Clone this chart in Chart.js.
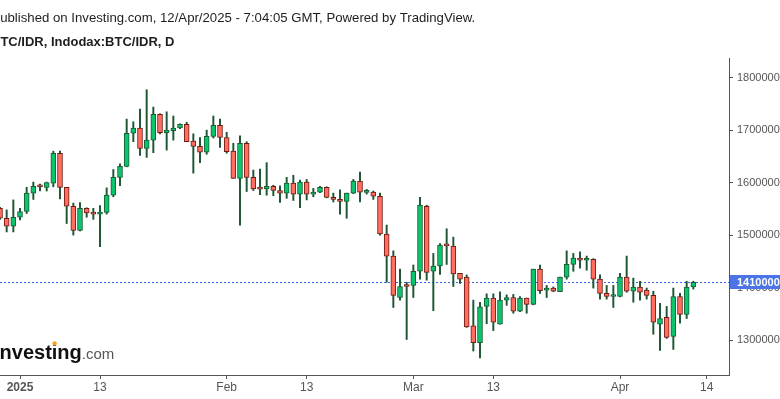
<!DOCTYPE html>
<html>
<head>
<meta charset="utf-8">
<script src="https://cdn.jsdelivr.net/npm/chart.js@4.4.1/dist/chart.umd.min.js"></script>
<style>
html, body { margin: 0; padding: 0; background: #fff; }
#caja { width: 780px; height: 399px; position: relative; }
</style>
</head>
<body>
<div id="caja"><canvas id="grafico"></canvas></div>
<script>
// velas diarias BTC/IDR, valores en millones de IDR
var primerDia = '2024-12-29';
var aperturas = [15.51,15.32,15.17,15.34,15.45,15.80,15.93,15.91,15.99,16.56,15.91,15.55,15.09,15.51,15.41,
  15.40,15.43,15.76,16.10,16.31,16.94,17.04,16.65,16.81,17.30,16.95,16.99,17.04,17.11,16.79,
  16.69,16.58,16.88,17.09,16.86,16.60,16.08,16.75,16.10,15.88,15.88,15.93,15.85,15.80,15.99,
  15.78,16.01,15.78,15.82,15.91,15.72,15.68,15.64,15.80,16.03,15.815,15.82,15.74,15.02,14.60,
  13.81,14.03,14.04,14.31,15.55,14.31,14.41,14.80,14.79,14.27,14.20,13.27,12.95,13.64,13.80,
  13.30,13.76,13.81,13.55,13.80,13.68,14.35,13.95,13.99,13.92,14.20,14.44,14.56,14.52,14.54,
  14.16,13.89,13.83,13.83,14.20,13.93,14.01,13.95,13.85,13.30,13.43,13.07,13.83,13.49,14.01];
var maximos = [15.53,15.48,15.67,15.51,15.91,16.01,15.97,16.01,16.60,16.60,15.91,15.61,15.62,15.52,15.51,
  15.56,15.90,16.25,16.36,17.21,17.16,17.40,17.77,17.44,17.31,17.35,17.27,17.12,17.15,16.93,
  16.86,17.00,17.27,17.21,16.96,16.75,16.89,16.78,16.24,16.26,16.38,15.95,15.94,16.10,16.14,
  16.05,16.06,15.89,15.93,15.92,15.80,15.86,15.80,16.06,16.20,15.87,15.84,15.80,15.19,14.70,
  14.35,14.10,14.43,15.72,15.57,14.65,14.84,15.12,14.96,14.27,14.24,13.76,13.72,13.88,13.88,
  13.92,13.86,13.87,13.83,13.80,14.35,14.43,14.04,14.01,14.20,14.70,14.65,14.68,14.60,14.55,
  14.24,14.04,14.04,14.27,14.60,14.18,14.12,13.99,13.93,13.70,13.64,13.99,13.89,14.12,14.12];
var minimos = [15.30,15.06,15.06,15.29,15.41,15.68,15.84,15.84,15.92,15.69,15.22,15.00,15.08,15.34,15.30,
  14.78,15.40,15.73,15.94,16.30,16.78,16.52,16.48,16.57,16.93,16.62,16.81,17.03,16.78,16.18,
  16.38,16.54,16.85,16.67,16.56,16.08,15.19,15.83,15.85,15.77,15.76,15.75,15.62,15.70,15.66,
  15.52,15.67,15.73,15.81,15.71,15.63,15.40,15.32,15.79,15.63,15.78,15.68,15.00,14.10,13.62,
  13.76,13.01,13.81,14.16,14.14,13.56,14.25,14.44,14.02,14.08,13.24,12.79,12.66,13.31,13.18,
  13.30,13.66,13.51,13.54,13.51,13.67,13.89,13.81,13.92,13.92,14.16,14.31,14.37,14.33,13.99,
  13.78,13.78,13.62,13.82,13.91,13.72,13.76,13.78,13.11,12.80,13.03,12.82,13.32,13.41,13.97];
var cierres = [15.32,15.17,15.34,15.45,15.80,15.93,15.92,16.00,16.56,15.91,15.55,15.09,15.51,15.42,15.40,
  15.44,15.76,16.10,16.31,16.94,17.04,16.65,16.81,17.30,16.95,17.00,17.04,17.11,16.78,16.69,
  16.58,16.88,17.09,16.86,16.59,16.08,16.75,16.10,15.88,15.875,15.93,15.85,15.80,15.99,15.78,
  16.01,15.78,15.82,15.91,15.72,15.68,15.64,15.80,16.03,15.82,15.82,15.74,15.02,14.60,13.85,
  14.02,14.02,14.31,15.57,14.29,14.41,14.81,14.795,14.26,14.16,13.25,12.95,13.63,13.80,13.34,
  13.76,13.81,13.55,13.80,13.68,14.35,13.94,13.99,13.93,14.20,14.44,14.56,14.52,14.535,14.16,
  13.89,13.83,13.84,14.20,13.93,14.01,13.91,13.85,13.34,13.41,13.05,13.83,13.49,14.01,14.10];

var tickFechas = ['2025-01-01','2025-01-13','2025-02-01','2025-02-13','2025-03-01','2025-03-13','2025-04-01','2025-04-14'];
var tickTextos = ['2025','13','Feb','13','Mar','13','Apr','14'];
var ticksY = [13, 14, 15, 16, 17, 18];

var titulo1 = 'Published on Investing.com, 12/Apr/2025 - 7:04:05 GMT, Powered by TradingView.';
var titulo2 = 'BTC/IDR, Indodax:BTC/IDR, D';

var FUENTE = 'Arial, "Liberation Sans", sans-serif';

function diaNum(s) { // dias desde 1 ene 2025
  var p = s.split('-');
  return (Date.UTC(+p[0], p[1]-1, +p[2]) - Date.UTC(2025, 0, 1)) / 86400000;
}

var inicio = diaNum(primerDia);
var velas = [], mechas = [], relleno = [], borde = [];
for (i = 0; i < cierres.length; i++) {
  var x = inicio + i;
  velas.push({x: x, y: [aperturas[i], cierres[i]]});
  mechas.push({x: x, y: [minimos[i], maximos[i]]});
  var sube = cierres[i] >= aperturas[i];
  relleno.push(sube ? '#0bc46c' : '#ff6e5f');
  borde.push(sube ? '#1a5a34' : '#6e1a14');
}
var ultimo = cierres[cierres.length-1];
var posTicks = tickFechas.map(diaNum);

var extras = {
  id: 'extras',
  beforeDatasetsDraw: function(chart) {
    var ctx = chart.ctx, a = chart.chartArea;
    var y = Math.round(chart.scales.y.getPixelForValue(ultimo)) + 0.5;
    ctx.save();
    ctx.strokeStyle = '#3b68e6';
    ctx.lineWidth = 1;
    ctx.setLineDash([2, 2]);
    ctx.beginPath();
    ctx.moveTo(a.left, y);
    ctx.lineTo(a.right, y);
    ctx.stroke();
    ctx.restore();
  },
  afterDraw: function(chart) {
    var ctx = chart.ctx, a = chart.chartArea;
    ctx.save();
    // titulos
    ctx.fillStyle = '#1e1e1e';
    ctx.textBaseline = 'alphabetic';
    ctx.font = '13.2px ' + FUENTE;
    ctx.fillText(titulo1, -8.6, 22);
    ctx.font = 'bold 13px ' + FUENTE;
    ctx.fillText(titulo2, -9, 46);
    // logo
    ctx.font = 'bold 20px ' + FUENTE;
    ctx.fillStyle = '#111';
    var lx = -6, ly = 359;
    ctx.fillText('Investing', lx, ly);
    var wInv = ctx.measureText('Investing').width;
    var xi = lx + ctx.measureText('Invest').width + ctx.measureText('i').width / 2;
    ctx.fillStyle = '#f7a21b';
    ctx.beginPath();
    ctx.arc(xi, ly - 15.5, 2.2, 0, Math.PI * 2);
    ctx.fill();
    ctx.font = '15px ' + FUENTE;
    ctx.fillStyle = '#555';
    ctx.fillText('.com', lx + wInv, ly);
    // etiqueta precio
    var y = Math.round(chart.scales.y.getPixelForValue(ultimo));
    ctx.fillStyle = '#4b74e6';
    ctx.fillRect(a.right + 1, y - 7, 60, 14);
    ctx.fillStyle = '#fff';
    ctx.font = 'bold 11px ' + FUENTE;
    ctx.textBaseline = 'middle';
    ctx.fillText(String(Math.round(ultimo * 1000000)), a.right + 8, y + 0.5);
    ctx.restore();
  }
};

var ctx = document.getElementById('grafico').getContext('2d');
var grafico = new Chart(ctx, {
  type: 'bar',
  data: {
    datasets: [{
      data: velas,
      backgroundColor: relleno,
      borderColor: borde,
      borderWidth: 1,
      borderSkipped: false,
      grouped: false,
      maxBarThickness: 5,
      barPercentage: 1,
      categoryPercentage: 1,
      minBarLength: 2,
      order: 0
    }, {
      data: mechas,
      backgroundColor: '#1d5633',
      borderWidth: 0,
      grouped: false,
      maxBarThickness: 1.3,
      barPercentage: 1,
      categoryPercentage: 1,
      order: 1
    }]
  },
  options: {
    responsive: true,
    maintainAspectRatio: false,
    animation: false,
    events: [],
    layout: { padding: { top: 58, left: 0, right: 0, bottom: 0 } },
    plugins: { legend: { display: false }, tooltip: { enabled: false } },
    scales: {
      x: {
        type: 'linear',
        min: -3,
        max: 106.35,
        offset: false,
        afterFit: function(s) { s.height = 24; },
        afterBuildTicks: function(s) {
          s.ticks = posTicks.map(function(v) { return {value: v}; });
        },
        grid: { offset: false, drawOnChartArea: false, drawTicks: true, tickLength: 4, color: '#555' },
        border: { display: true, color: '#555', width: 1 },
        ticks: {
          autoSkip: false,
          maxRotation: 0,
          padding: 1,
          color: '#555',
          font: function(c) {
            var t = c.tick ? tickTextos[posTicks.indexOf(c.tick.value)] : '';
            return { family: FUENTE, size: 12, weight: t === '2025' ? 'bold' : 'normal' };
          },
          callback: function(v) { return tickTextos[posTicks.indexOf(v)]; }
        }
      },
      y: {
        position: 'right',
        min: 12.333,
        max: 18.375,
        beginAtZero: false,
        afterFit: function(s) { s.width = 51; },
        afterBuildTicks: function(s) {
          s.ticks = ticksY.map(function(v) { return {value: v}; });
        },
        grid: { drawOnChartArea: false, drawTicks: true, tickLength: 4, color: '#555' },
        border: { display: true, color: '#555', width: 1 },
        ticks: {
          padding: 4,
          color: '#555',
          font: { family: FUENTE, size: 11 },
          callback: function(v) { return String(Math.round(v * 1000000)); }
        }
      }
    }
  },
  plugins: [extras]
});
</script>
</body>
</html>
